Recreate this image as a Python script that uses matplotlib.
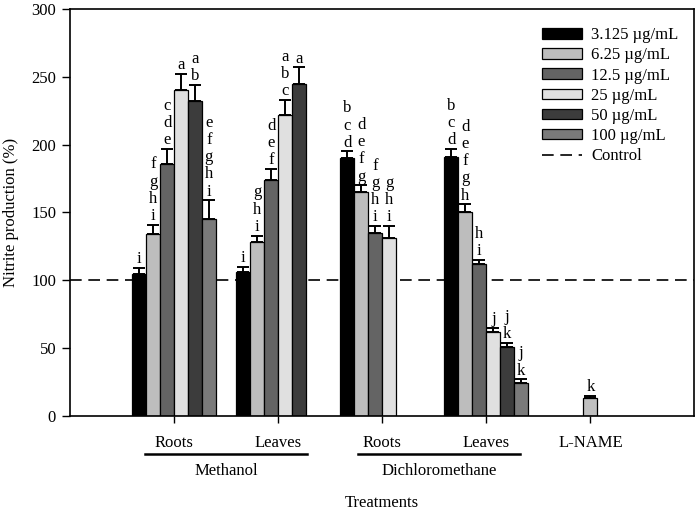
import numpy as np
import matplotlib
matplotlib.use('Agg')
import matplotlib.pyplot as plt

plt.rcParams['font.family'] = ['Liberation Serif', 'DejaVu Serif']
plt.rcParams['font.size'] = 12

# concentrations and colours
concs = ['3.125 µg/mL', '6.25 µg/mL', '12.5 µg/mL', '25 µg/mL', '50 µg/mL', '100 µg/mL']
colors = ['#000000', '#bdbdbd', '#646464', '#e0e0e0', '#3c3c3c', '#7a7a7a']

# group tick labels
tick_labels = ['Roots', 'Leaves', 'Roots', 'Leaves', 'L-NAME']

# Methanol roots
mr_vals = [105, 134, 186, 240, 232, 145]
mr_err = [4, 7, 11, 12, 12, 14]
mr_sig = ['i', 'fghi', 'cde', 'a', 'ab', 'efghi']
# Methanol leaves
ml_vals = [106, 128, 174, 222, 245]
ml_err = [4, 5, 8, 11, 12]
ml_sig = ['i', 'ghi', 'def', 'abc', 'a']
# Dichloromethane roots
dr_vals = [190, 165, 135, 131]
dr_err = [5, 5, 5, 9]
dr_sig = ['bcd', 'defg', 'fghi', 'ghi']
# Dichloromethane leaves
dl_vals = [191, 150, 112, 62, 51, 24]
dl_err = [6, 6, 3, 3, 3, 3]
dl_sig = ['bcd', 'defgh', 'hi', 'j', 'jk', 'jk']
# L-NAME
ln_val = 13
ln_err = 2
ln_sig = 'k'

groups = [(mr_vals, mr_err, mr_sig), (ml_vals, ml_err, ml_sig),
          (dr_vals, dr_err, dr_sig), (dl_vals, dl_err, dl_sig)]

fig = plt.figure(figsize=(6.97, 5.12), dpi=100)
ax = fig.add_axes([0.1004, 0.1875, 0.896, 0.795])

w = 0.134


def sig_label(x, top, letters):
    ax.annotate('\n'.join(letters), xy=(x, top), xytext=(0, 0.5),
                textcoords='offset points', ha='center', va='bottom',
                fontsize=12, linespacing=1.1)


for g, (vals, errs, sigs) in enumerate(groups):
    for i, (v, e, s) in enumerate(zip(vals, errs, sigs)):
        x = g + (i - 2.5) * w
        ax.bar(x, v, width=w, color=colors[i], edgecolor='black', linewidth=0.9,
               label=concs[i] if g == 0 else None, zorder=2)
        ax.errorbar(x, v, yerr=[[0], [e]], color='black', capsize=4.6,
                    capthick=1.4, elinewidth=1.4, zorder=3)
        sig_label(x, v + e, s)

# L-NAME bar
ax.bar(4, ln_val, width=w, color='#c0c0c0', edgecolor='black', linewidth=0.9, zorder=2)
ax.errorbar(4, ln_val, yerr=[[0], [ln_err]], color='black', capsize=4.6,
            capthick=1.4, elinewidth=1.4, zorder=3)
sig_label(4, ln_val + ln_err, ln_sig)

ax.axhline(100, color='black', linestyle=(0, (7, 4)), linewidth=1.2, label='Control', zorder=1)

ax.set_xlim(-1.0, 5.0)
ax.set_ylim(0, 300)
ax.set_yticks(np.arange(0, 301, 50))
ax.set_xticks(range(5))
ax.set_xticklabels([])
ax.tick_params(axis='both', direction='out', length=6, width=1, labelsize=12, pad=4)
ax.tick_params(axis='x', length=5)
for sp in ax.spines.values():
    sp.set_linewidth(1.2)

tr = ax.get_xaxis_transform()
for i, lab in enumerate(tick_labels):
    ax.text(i, -0.066, lab, transform=tr, ha='center', va='center', fontsize=12)
ax.plot([-0.28, 1.28], [-0.093, -0.093], transform=tr, color='black', lw=1.8, clip_on=False)
ax.plot([1.77, 3.32], [-0.093, -0.093], transform=tr, color='black', lw=1.8, clip_on=False)
ax.text(0.5, -0.135, 'Methanol', transform=tr, ha='center', va='center', fontsize=12)
ax.text(2.55, -0.135, 'Dichloromethane', transform=tr, ha='center', va='center', fontsize=12)
ax.text(2.0, -0.214, 'Treatments', transform=tr, ha='center', va='center', fontsize=12)

ax.set_ylabel('Nitrite production (%)', fontsize=12, labelpad=9)

handles, labels = ax.get_legend_handles_labels()
order = [labels.index(c) for c in concs] + [labels.index('Control')]
ax.legend([handles[k] for k in order], [labels[k] for k in order],
          loc='upper right', bbox_to_anchor=(0.998, 0.992), frameon=False,
          handlelength=2.4, handleheight=0.6, labelspacing=0.25, handletextpad=0.55,
          fontsize=12)

fig.savefig('out.png', dpi=100)
